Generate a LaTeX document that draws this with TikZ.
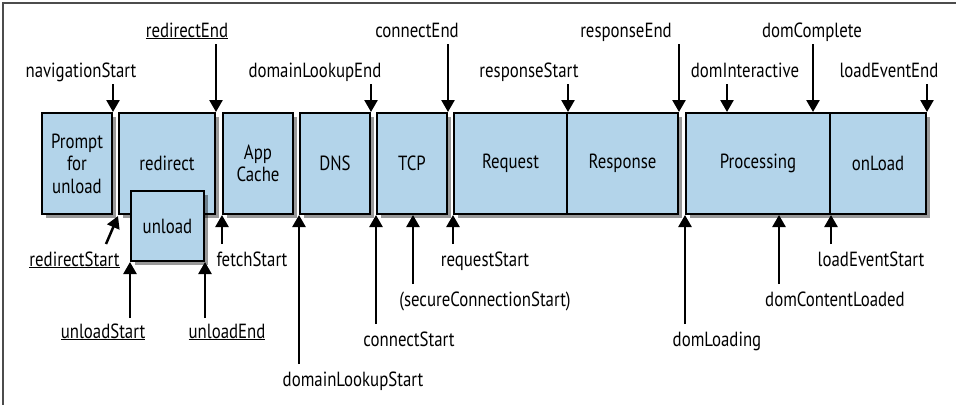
\documentclass[tikz,border=0pt]{standalone}
\usepackage{fontspec}
\setmainfont{PT Sans}[FakeStretch=0.82]
\usetikzlibrary{arrows.meta,shadows}
\definecolor{boxblue}{RGB}{179,212,234}
\begin{document}
\begin{tikzpicture}[x=1pt,y=-1pt,
  phase/.style={draw=black, line width=2pt, fill=boxblue,
    drop shadow={shadow xshift=3.5pt,shadow yshift=-3.5pt,opacity=0.4,fill=black},
    inner sep=0pt, align=center, font=\fontsize{20.5}{22.5}\selectfont,
    minimum height=101pt},
  lbl/.style={anchor=base, inner sep=0pt, font=\fontsize{20.5}{22}\selectfont},
  evarrow/.style={line width=2.5pt, -{Triangle[width=13pt,length=12pt]}}]
\useasboundingbox (0,0) rectangle (956,405);
\draw[gray!60!black, line width=1.2pt] (956,3) -- (3,3) -- (3,405);

% phases
\node[phase, minimum width=70pt] (prompt) at (77,163.5) {Prompt\\for\\unload};
\node[phase, minimum width=96pt] (redirect) at (167,163.5) {redirect};
\node[phase, minimum width=73pt, minimum height=70pt] (unload) at (167.5,226) {unload};
\node[phase, minimum width=70pt] (appcache) at (258,163.5) {App\\Cache};
\node[phase, minimum width=70pt] (dns) at (335,163.5) {DNS};
\node[phase, minimum width=70pt] (tcp) at (412,163.5) {TCP};
\node[phase, minimum width=113pt] (request) at (510.5,163.5) {Request};
\node[phase, minimum width=111pt] (response) at (622.5,163.5) {Response};
\node[phase, minimum width=144pt] (processing) at (758,163.5) {Processing};
\node[phase, minimum width=96pt] (onload) at (878,163.5) {onLoad};

% top labels
\node[lbl] (navigationStart) at (81,77) {navigationStart};
\node[lbl] (redirectEnd) at (187,37) {\underline{redirectEnd}};
\node[lbl] (domainLookupEnd) at (315,77) {domainLookupEnd};
\node[lbl] (connectEnd) at (417,37) {connectEnd};
\node[lbl] (responseStart) at (529,77) {responseStart};
\node[lbl] (responseEnd) at (626,37) {responseEnd};
\node[lbl] (domInteractive) at (745,77) {domInteractive};
\node[lbl] (domComplete) at (812,37) {domComplete};
\node[lbl] (loadEventEnd) at (889,77) {loadEventEnd};

% bottom labels
\node[lbl] (redirectStart) at (74.5,266) {\underline{redirectStart}};
\node[lbl] (unloadStart) at (103,338) {\underline{unloadStart}};
\node[lbl] (unloadEnd) at (227,338) {\underline{unloadEnd}};
\node[lbl] (fetchStart) at (252,266) {fetchStart};
\node[lbl] (domainLookupStart) at (353,386) {domainLookupStart};
\node[lbl] (connectStart) at (409,346) {connectStart};
\node[lbl] (secureConnectionStart) at (485,306) {(secureConnectionStart)};
\node[lbl] (requestStart) at (485,266) {requestStart};
\node[lbl] (domLoading) at (717,346) {domLoading};
\node[lbl] (domContentLoaded) at (835,306) {domContentLoaded};
\node[lbl] (loadEventStart) at (871,266) {loadEventStart};

% top arrows
\draw[evarrow] ([yshift=28pt]prompt.north east) -- (prompt.north east);
\draw[evarrow] ([yshift=68pt]redirect.north east) -- (redirect.north east);
\draw[evarrow] ([yshift=28pt]dns.north east) -- (dns.north east);
\draw[evarrow] ([yshift=68pt]tcp.north east) -- (tcp.north east);
\draw[evarrow] ([yshift=28pt]request.north east) -- (request.north east);
\draw[evarrow] ([yshift=68pt]response.north east) -- (response.north east);
\draw[evarrow] ([xshift=42pt,yshift=28pt]processing.north west) -- ([xshift=42pt]processing.north west);
\draw[evarrow] ([xshift=-18pt,yshift=68pt]processing.north east) -- ([xshift=-18pt]processing.north east);
\draw[evarrow] ([yshift=28pt]onload.north east) -- (onload.north east);

% bottom arrows
\draw[evarrow] ([xshift=-12pt,yshift=-29pt]redirect.south west) -- ([yshift=-1pt]redirect.south west);
\draw[evarrow] ([yshift=-56pt]unload.south west) -- (unload.south west);
\draw[evarrow] ([yshift=-56pt]unload.south east) -- (unload.south east);
\draw[evarrow] ([yshift=-29pt]appcache.south west) -- (appcache.south west);
\draw[evarrow] ([yshift=-149pt]dns.south west) -- (dns.south west);
\draw[evarrow] ([yshift=-109pt]tcp.south west) -- (tcp.south west);
\draw[evarrow] ([xshift=1pt,yshift=-69pt]tcp.south) -- ([xshift=1pt]tcp.south);
\draw[evarrow] ([yshift=-29pt]request.south west) -- (request.south west);
\draw[evarrow] ([yshift=-109pt]processing.south west) -- (processing.south west);
\draw[evarrow] ([xshift=-52pt,yshift=-69pt]processing.south east) -- ([xshift=-52pt]processing.south east);
\draw[evarrow] ([xshift=2pt,yshift=-29pt]onload.south west) -- ([xshift=2pt]onload.south west);
\end{tikzpicture}
\end{document}
